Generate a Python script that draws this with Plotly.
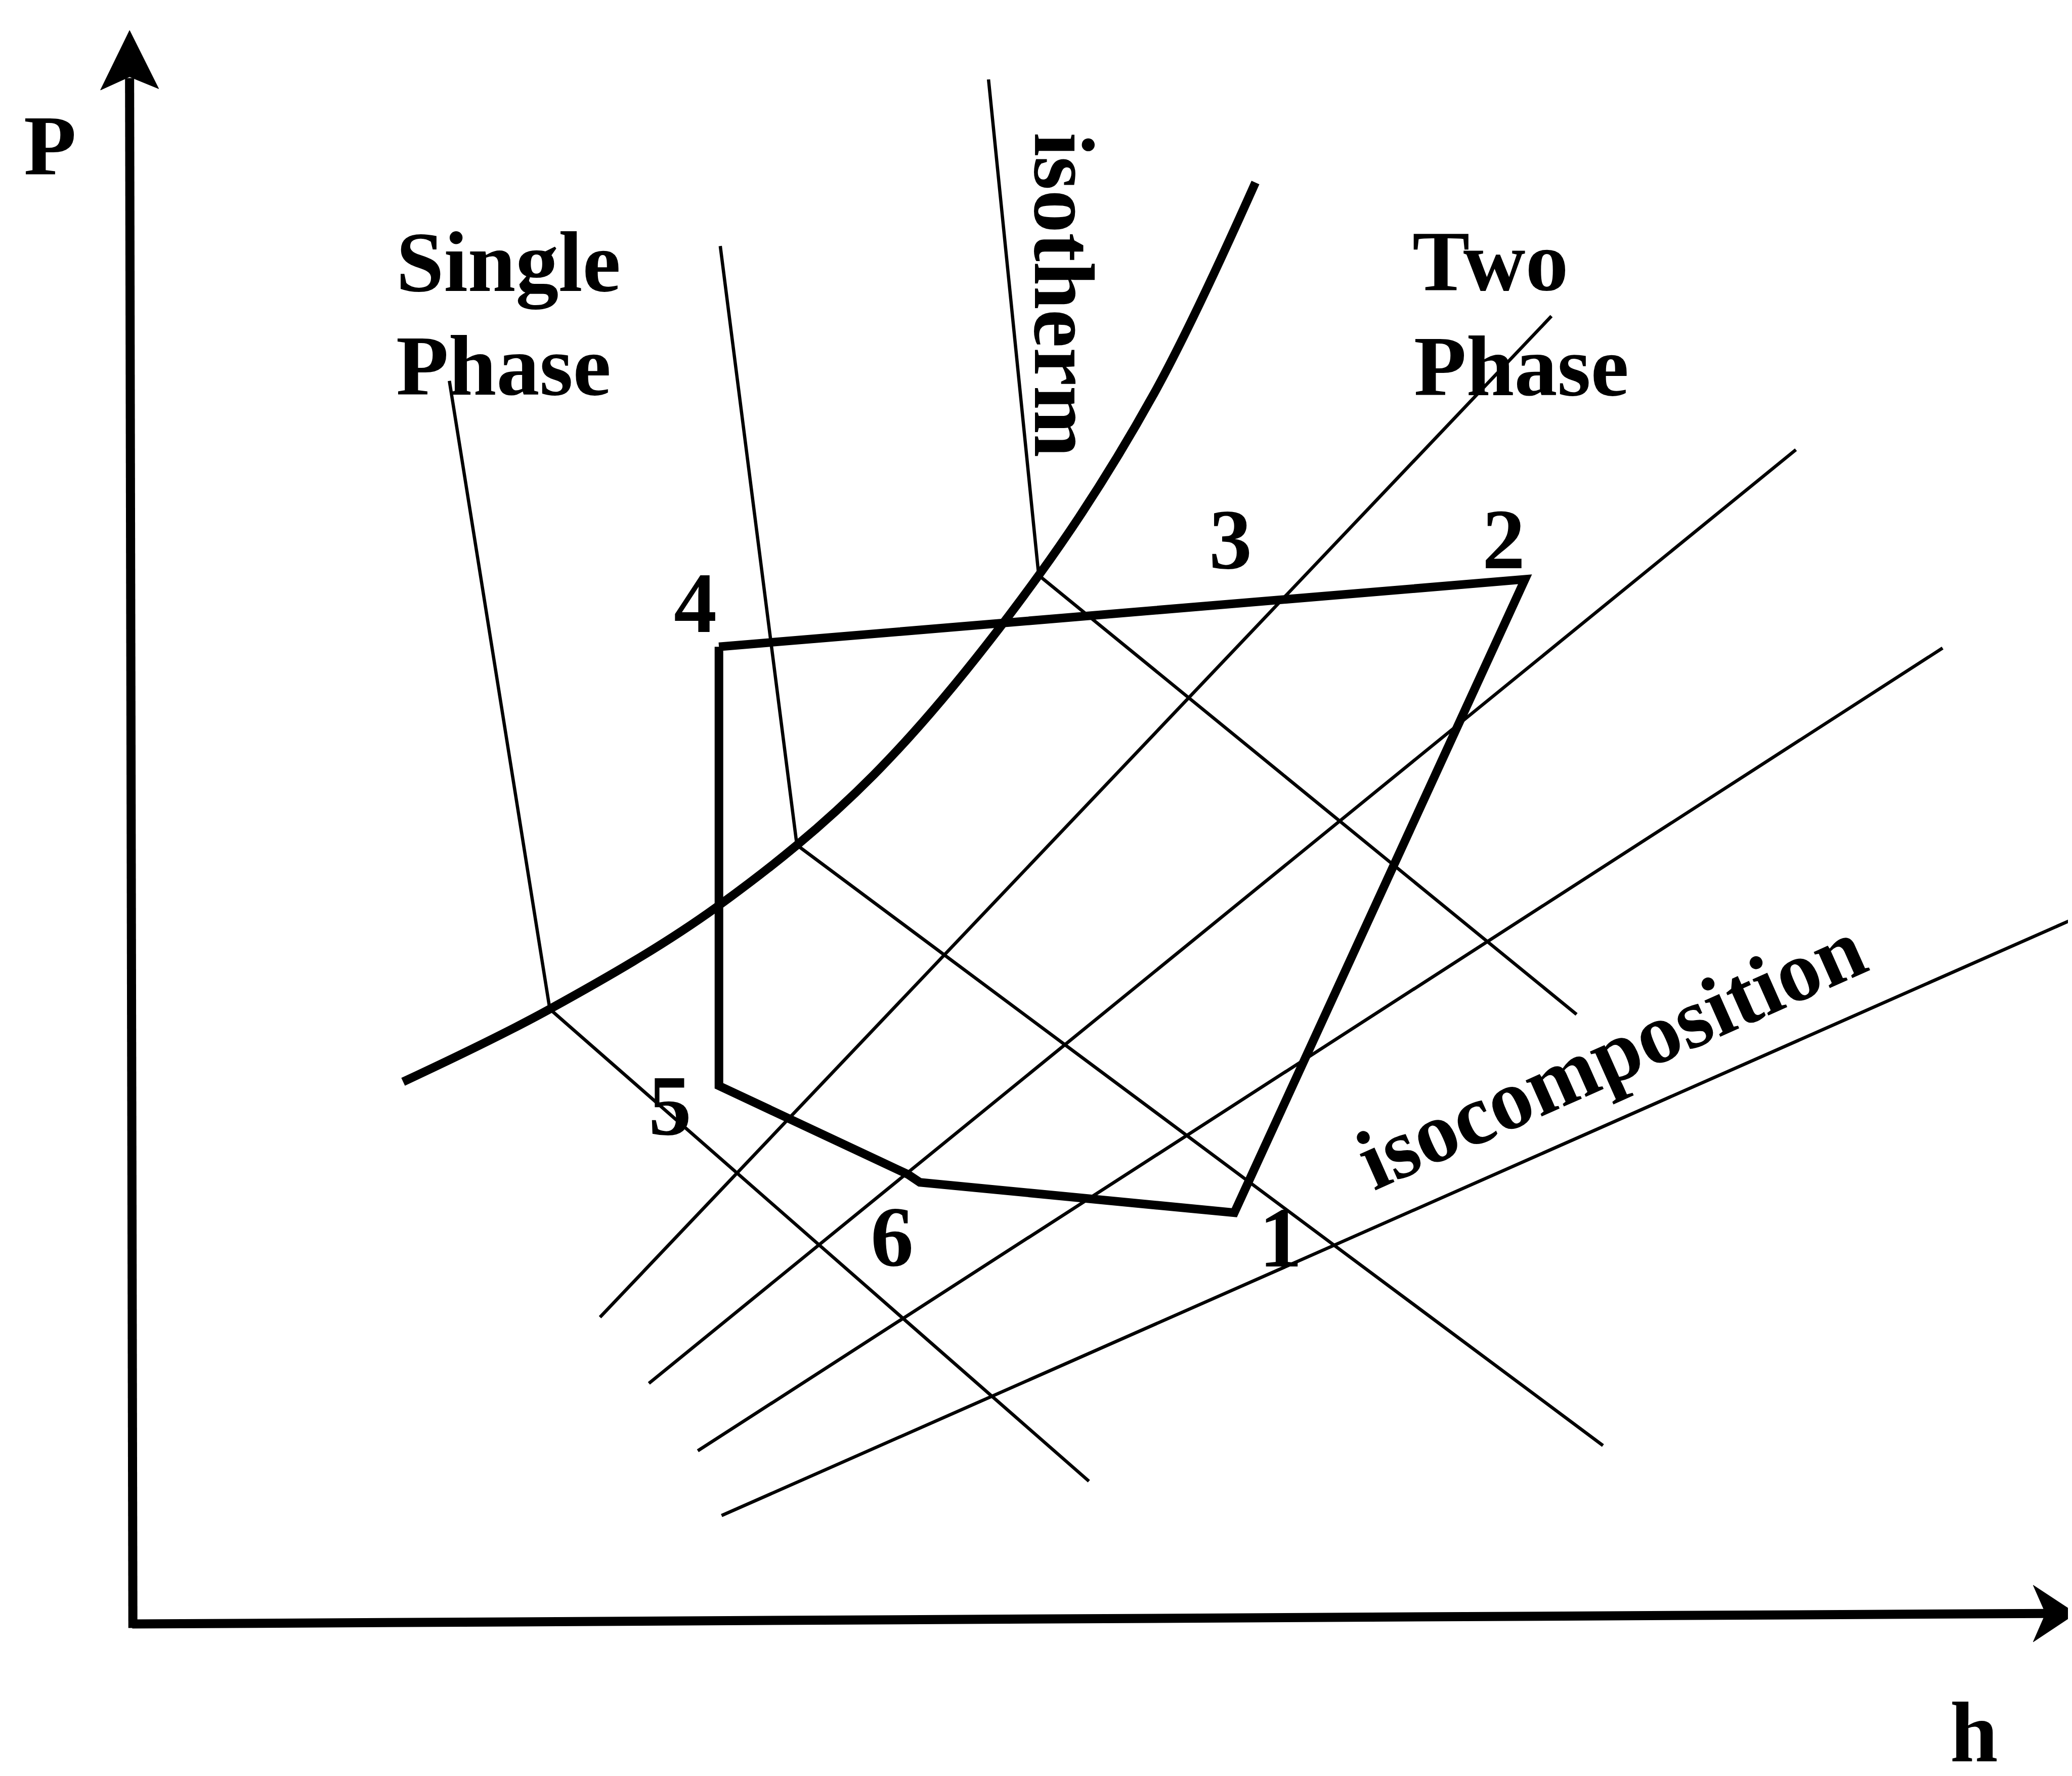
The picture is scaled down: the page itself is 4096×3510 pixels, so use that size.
import plotly.graph_objects as go

# ---- schematic data (h = enthalpy-like abscissa, P = pressure-like ordinate) ----
# phase boundary (thick curve)
phase_h = [205, 316, 442, 561, 686, 773, 850]
phase_P = [410, 465, 542, 642, 793, 930, 1090]

# isotherms: upper end, knee on the phase boundary, lower end
iso1_h = [240, 316, 724]
iso1_P = [940, 465, 108]
iso2_h = [445, 503, 1113]
iso2_P = [1042, 589, 135]
iso3_h = [648, 686, 1093]
iso3_P = [1168, 793, 461]

# isocomposition lines (lower-left end, upper-right end)
comp1_h = [354, 1074]
comp1_P = [232, 989]
comp2_h = [391, 1259]
comp2_P = [182, 888]
comp3_h = [428, 1370]
comp3_P = [131, 738]
comp4_h = [446, 1471]
comp4_P = [82, 534]

# cycle 4 -> 2 -> 1 -> 6 -> 5 -> 4
cycle_h = [444, 1054, 834, 596, 587, 444, 444]
cycle_P = [739, 790, 311, 334, 340, 407, 739]

# state-point labels
state_labels = ["4", "3", "2", "5", "6", "1"]
state_h = [426, 831, 1038, 407, 575, 869]
state_P = [772, 820, 820, 392, 293, 292]

# axes with arrowheads
yaxis_h = [0.5, -2]
yaxis_P = [-3, 1169]
xaxis_h = [0, 1448]
xaxis_P = [0, 8]
yarrow_h = [-2, -24, -2, 20, -2]
yarrow_P = [1205, 1160, 1170, 1161, 1205]
xarrow_h = [1471, 1438.6, 1448, 1438.6, 1471]
xarrow_P = [8, 29.3, 8, -13.5, 8]

BLACK = "black"
THIN = 6.5
THICK = 17
AXW = 18
FONT = "Liberation Serif"
FS = 170

fig = go.Figure()

def line(h, p, w, shape="linear"):
    fig.add_trace(go.Scatter(x=h, y=p, mode="lines",
                             line=dict(color=BLACK, width=w, shape=shape, smoothing=1.0),
                             hoverinfo="skip", showlegend=False))

for h, p in [(iso1_h, iso1_P), (iso2_h, iso2_P), (iso3_h, iso3_P),
             (comp1_h, comp1_P), (comp2_h, comp2_P), (comp3_h, comp3_P), (comp4_h, comp4_P)]:
    line(h, p, THIN)

line(phase_h, phase_P, THICK, shape="spline")
line(cycle_h, cycle_P, THICK)

line(yaxis_h, yaxis_P, AXW)
line(xaxis_h, xaxis_P, AXW)
for h, p in [(yarrow_h, yarrow_P), (xarrow_h, xarrow_P)]:
    fig.add_trace(go.Scatter(x=h, y=p, mode="lines", fill="toself",
                             fillcolor=BLACK, line=dict(color=BLACK, width=1),
                             hoverinfo="skip", showlegend=False))

def text(t, x, y, angle=0, xanchor="center"):
    fig.add_annotation(x=x, y=y, text=t, showarrow=False, textangle=angle,
                       xanchor=xanchor, yanchor="middle",
                       font=dict(family=FONT, size=FS, color=BLACK))

for t, x, y in zip(state_labels, state_h, state_P):
    text("<b>%s</b>" % t, x, y)

text("<b>P</b>", -62, 1118)
text("<b>h</b>", 1394, -82)
text("<b>Single</b>", 199, 1030, xanchor="left")
text("<b>Phase</b>", 199, 951.5, xanchor="left")
text("<b>Two</b>", 968, 1030.5, xanchor="left")
text("<b>Phase</b>", 969, 951, xanchor="left")
text("<b>isotherm</b>", 705, 1005, angle=90)
text("<b>isocomposition</b>", 1119, 431, angle=-24)

fig.update_layout(
    width=4096, height=3510,
    margin=dict(l=0, r=0, t=0, b=0),
    paper_bgcolor="white", plot_bgcolor="white",
    xaxis=dict(range=[-97, 1471], visible=False, fixedrange=True),
    yaxis=dict(range=[-118, 1225], visible=False, fixedrange=True),
)

fig.write_html("out.html")
